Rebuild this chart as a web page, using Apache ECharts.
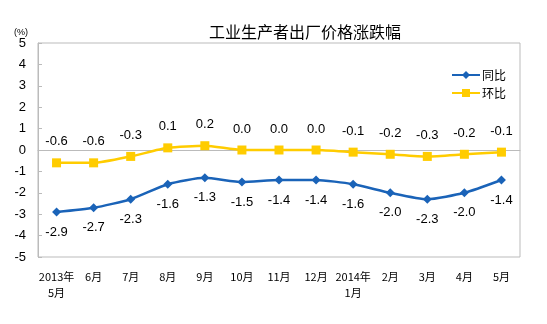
<!DOCTYPE html>
<html><head><meta charset="utf-8">
<script src="https://cdn.jsdelivr.net/npm/echarts@6/dist/echarts.min.js"></script>
<style>html,body{margin:0;padding:0;background:#fff}#c{width:547px;height:324px}</style>
</head><body><div id="c"></div>
<script>
var categories = ['2013年\n5月','6月','7月','8月','9月','10月','11月','12月','2014年\n1月','2月','3月','4月','5月'];
var yoy = [-2.9,-2.7,-2.3,-1.6,-1.3,-1.5,-1.4,-1.4,-1.6,-2.0,-2.3,-2.0,-1.4];
var mom = [-0.6,-0.6,-0.3,0.1,0.2,0.0,0.0,0.0,-0.1,-0.2,-0.3,-0.2,-0.1];
var yTicks = [-5,-4,-3,-2,-1,0,1,2,3,4,5];

var chart = echarts.init(document.getElementById('c'), null, {renderer:'canvas'});
var lblFont = {fontFamily:'Arial, "Liberation Sans", sans-serif', fontSize:13, color:'#000'};
chart.setOption({
  animation:false,
  backgroundColor:'#fff',
  title:{text:'工业生产者出厂价格涨跌幅', left:300, top:19, textAlign:'center',
    textStyle:{fontFamily:'"Noto Sans CJK SC", sans-serif', fontSize:16, fontWeight:'normal', color:'#000'}},
  grid:{left:38, right:27, top:43, bottom:67, show:true, borderColor:'#BBBBBB', borderWidth:1},
  legend:{orient:'vertical', left:446, top:64, itemGap:6, itemWidth:28, itemHeight:10,
    textStyle:{fontFamily:'"Noto Sans CJK SC", sans-serif', fontSize:12, color:'#000', padding:[0,0,0,-3]},
    data:['同比','环比']},
  xAxis:{type:'category', data:categories, boundaryGap:true,
    axisLine:{lineStyle:{color:'#BBBBBB'}},
    axisTick:{inside:true, length:3, lineStyle:{color:'#BBBBBB'}},
    axisLabel:{margin:12, interval:0, fontFamily:'"Noto Sans CJK SC", sans-serif', fontSize:11, color:'#000', lineHeight:16}},
  yAxis:{type:'value', min:yTicks[0], max:yTicks[yTicks.length-1], interval:1,
    name:'(%)', nameLocation:'end', nameGap:6,
    nameTextStyle:{fontSize:9, color:'#000', align:'right', padding:[0,10,0,0]},
    splitLine:{show:false},
    axisLine:{show:true, lineStyle:{color:'#BBBBBB'}},
    axisTick:{show:true, inside:true, length:4, lineStyle:{color:'#BBBBBB'}},
    axisLabel:{margin:12, fontFamily:'Arial, "Liberation Sans", sans-serif', fontSize:13, color:'#000'}},
  series:[
    {name:'同比', type:'line', data:yoy, smooth:0.2, symbol:'diamond', symbolSize:9,
      itemStyle:{color:'#1A63B8'}, lineStyle:{width:2.5, color:'#1A63B8'},
      label:{show:true, position:'bottom', distance:9, formatter:function(p){return p.value.toFixed(1);}, textStyle:lblFont}},
    {name:'环比', type:'line', data:mom, smooth:0.2, symbol:'rect', symbolSize:9,
      itemStyle:{color:'#FFCC00'}, lineStyle:{width:2.5, color:'#FFCC00'},
      label:{show:true, position:'top', distance:10, formatter:function(p){return p.value.toFixed(1);}, textStyle:lblFont}}
  ]
});
</script></body></html>
